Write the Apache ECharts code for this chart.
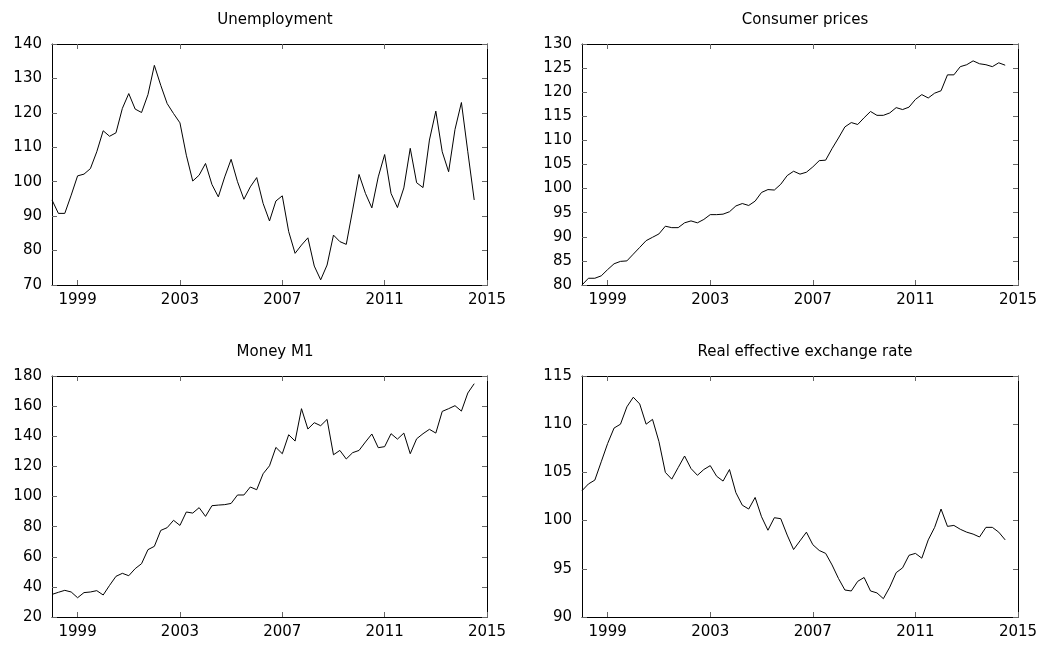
<!DOCTYPE html>
<html>
<head>
<meta charset="utf-8">
<script src="https://cdn.jsdelivr.net/npm/echarts@6/dist/echarts.min.js"></script>
<style>
html,body{margin:0;padding:0;background:#fff;}
#chart{width:1043px;height:646px;}
</style>
</head>
<body>
<div id="chart"></div>
<script>
// Quarterly data 1998Q1 .. 2014Q3
const startYear = 1998;
const xTickYears = [1999, 2003, 2007, 2011, 2015];

const titles = ["Unemployment", "Consumer prices", "Money M1", "Real effective exchange rate"];

const unemployment = [94.7,90.8,90.8,96.1,101.7,102.2,103.8,108.7,114.8,113.2,114.2,121.3,125.6,121.1,120.1,125.3,
133.8,128.0,122.7,119.8,117.1,107.7,100.2,101.9,105.3,99.2,95.6,101.4,106.5,100.0,94.9,98.5,101.2,93.7,88.6,94.4,
95.9,85.5,79.2,81.6,83.7,75.5,71.5,75.8,84.5,82.6,81.8,91.8,102.1,96.6,92.4,101.4,107.9,96.6,92.5,98.2,109.7,99.7,
98.3,112.1,120.5,108.7,102.9,115.2,123.0,108.7,94.7];

const consumerPrices = [80.0,81.4,81.4,81.9,83.2,84.4,84.9,85.0,86.4,87.8,89.2,89.9,90.6,92.2,91.9,91.9,92.9,93.3,
92.9,93.6,94.6,94.6,94.7,95.2,96.4,96.9,96.5,97.4,99.2,99.8,99.7,100.9,102.7,103.6,103.0,103.4,104.5,105.8,105.9,
108.3,110.5,112.8,113.7,113.3,114.7,116.0,115.2,115.2,115.7,116.8,116.4,116.9,118.5,119.5,118.8,119.8,120.3,123.6,
123.6,125.3,125.7,126.5,125.9,125.7,125.3,126.1,125.6];

const moneyM1 = [35.0,36.4,37.7,36.6,32.8,36.2,36.6,37.5,34.6,41.0,47.0,49.0,47.4,52.1,55.4,64.7,66.9,77.5,79.3,84.2,
80.8,89.7,89.0,92.6,86.8,93.9,94.3,94.6,95.4,101.0,101.0,106.3,104.5,115.1,120.4,132.6,128.4,141.0,136.8,158.3,144.8,
149.0,147.0,151.2,127.7,130.6,124.9,129.1,130.6,136.2,141.5,132.4,133.1,141.7,138.1,142.1,128.4,138.3,141.7,144.6,
142.1,156.5,158.3,160.3,156.7,168.7,174.9];

const reer = [103.1,103.8,104.2,106.1,108.0,109.6,110.0,111.8,112.8,112.1,110.0,110.5,108.2,105.0,104.3,105.5,106.7,
105.4,104.7,105.3,105.7,104.6,104.1,105.3,102.9,101.6,101.2,102.4,100.4,99.0,100.3,100.2,98.5,97.0,97.9,98.8,97.5,
96.9,96.6,95.4,94.0,92.8,92.7,93.7,94.1,92.7,92.5,91.9,93.1,94.6,95.1,96.4,96.6,96.1,98.0,99.3,101.2,99.4,99.5,99.1,
98.8,98.6,98.3,99.3,99.3,98.8,98.0];

const seriesValues = [unemployment, consumerPrices, moneyM1, reer];
const yMin = [70, 80, 20, 90];
const yMax = [140, 130, 180, 115];
const yInterval = [10, 5, 20, 5];

const FONT = "DejaVu Sans";
const grids = [
  {left: 52, right: 556, top: 44, bottom: 361},
  {left: 582, right: 25, top: 44, bottom: 361},
  {left: 52, right: 556, top: 376, bottom: 29},
  {left: 582, right: 25, top: 376, bottom: 29}
];
const titlePos = [
  {left: 270, top: 8}, {left: 800, top: 8},
  {left: 270, top: 340}, {left: 800, top: 340}
];

const tickStyle = {show: true, inside: true, length: 5, lineStyle: {color: '#666', width: 1}};
const lineAxis = {show: true, onZero: false, lineStyle: {color: '#000', width: 1}};

const option = {
  animation: false,
  backgroundColor: '#fff',
  title: titles.map((t, i) => ({
    text: t, left: titlePos[i].left, top: titlePos[i].top, textAlign: 'center',
    textStyle: {fontFamily: FONT, fontSize: 15, fontWeight: 'normal', color: '#000'}
  })),
  grid: grids.map(g => Object.assign({containLabel: false}, g)),
  xAxis: [],
  yAxis: [],
  series: []
};

for (let i = 0; i < 4; i++) {
  ['bottom', 'top'].forEach((pos, k) => {
    option.xAxis.push({
      type: 'value', gridIndex: i, position: pos, min: 1998, max: 2015,
      axisLine: lineAxis,
      axisTick: Object.assign({customValues: xTickYears}, tickStyle),
      axisLabel: {show: k === 0, customValues: xTickYears, margin: 8,
        fontFamily: FONT, fontSize: 15, color: '#000', formatter: v => String(v)},
      splitLine: {show: false}
    });
  });
  ['left', 'right'].forEach((pos, k) => {
    option.yAxis.push({
      type: 'value', gridIndex: i, position: pos,
      min: yMin[i], max: yMax[i], interval: yInterval[i],
      axisLine: lineAxis,
      axisTick: tickStyle,
      axisLabel: {show: k === 0, margin: 10, fontFamily: FONT, fontSize: 15, color: '#000'},
      splitLine: {show: false}
    });
  });
  option.series.push({
    type: 'line',
    xAxisIndex: i * 2, yAxisIndex: i * 2,
    showSymbol: false, symbol: 'none',
    lineStyle: {color: '#000', width: 1},
    data: seriesValues[i].map((v, j) => [startYear + j / 4, v])
  });
}

const chart = echarts.init(document.getElementById('chart'), null, {renderer: 'canvas'});
chart.setOption(option);
</script>
</body>
</html>
